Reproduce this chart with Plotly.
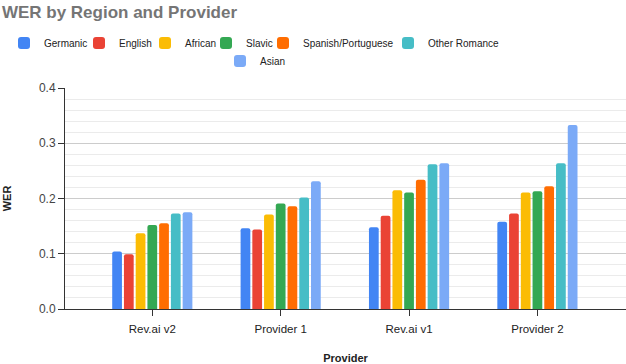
import plotly.graph_objects as go

providers = ["Rev.ai v2", "Provider 1", "Rev.ai v1", "Provider 2"]
regions = ["Germanic", "English", "African", "Slavic", "Spanish/Portuguese", "Other Romance", "Asian"]
germanic = [0.104, 0.146, 0.148, 0.158]
english = [0.099, 0.144, 0.169, 0.173]
african = [0.137, 0.171, 0.215, 0.211]
slavic = [0.152, 0.191, 0.211, 0.213]
spanish_portuguese = [0.155, 0.186, 0.234, 0.222]
other_romance = [0.173, 0.202, 0.262, 0.264]
asian = [0.175, 0.231, 0.264, 0.333]

series = [germanic, english, african, slavic, spanish_portuguese, other_romance, asian]
colors = ["#4285F4", "#EA4335", "#FBBC04", "#34A853", "#FF6D01", "#46BDC6", "#7BAAF7"]
legend_widths = [30, 21, 16, 12, 80, 70, 40]

FONT = "Liberation Sans, Arial, sans-serif"

fig = go.Figure()
for name, vals, col, lw in zip(regions, series, colors, legend_widths):
    fig.add_trace(go.Bar(
        x=providers, y=vals, name=name, marker=dict(color=col, line=dict(width=0)),
        legend="legend2" if name == "Asian" else "legend",
        legendwidth=lw,
    ))

fig.update_layout(
    width=626, height=364,
    margin=dict(l=65, r=0, t=88, b=55, autoexpand=False),
    paper_bgcolor="white", plot_bgcolor="white",
    barmode="group", bargap=0.36, bargroupgap=0.17, barcornerradius=2,
    font=dict(family=FONT, size=12, color="#444444"),
    title=dict(text="<b>WER by Region and Provider</b>", x=0.003, xref="container", xanchor="left",
               y=1 - 12 / 364, yref="container", yanchor="middle",
               font=dict(family=FONT, size=17, color="#757575")),
    legend=dict(orientation="h", xref="container", x=4 / 626, xanchor="left",
                yref="container", y=1 - 43 / 364, yanchor="middle",
                font=dict(family=FONT, size=10, color="#222222"), bgcolor="rgba(0,0,0,0)"),
    legend2=dict(orientation="h", xref="container", x=220 / 626, xanchor="left",
                 yref="container", y=1 - 61 / 364, yanchor="middle",
                 font=dict(family=FONT, size=10, color="#222222"), bgcolor="rgba(0,0,0,0)"),
    showlegend=True,
)

fig.update_xaxes(
    type="category", range=[-0.68, 3.69],
    showline=True, linecolor="#333333", linewidth=1,
    ticks="outside", ticklen=6, tickcolor="#333333", ticklabelstandoff=3,
    tickfont=dict(family=FONT, size=11.5, color="#222222"),
    showgrid=False,
    title=dict(text="<b>Provider</b>", font=dict(family=FONT, size=11, color="#222222"), standoff=22),
)
fig.update_yaxes(
    range=[0, 0.4], dtick=0.1, tick0=0, tickformat=".1f",
    showline=True, linecolor="#333333", linewidth=1,
    ticks="outside", ticklen=6, tickcolor="#333333",
    tickfont=dict(family=FONT, size=12, color="#444444"),
    showgrid=True, gridcolor="#cccccc", gridwidth=1,
    zeroline=False,
    minor=dict(dtick=0.02, showgrid=True, gridcolor="#ebebeb", gridwidth=1),
    title=dict(text="<b>WER</b>", font=dict(family=FONT, size=11, color="#222222"), standoff=25),
)

fig.write_html("out.html", config={"displayModeBar": False},
               post_script="document.body.style.margin='0';")
